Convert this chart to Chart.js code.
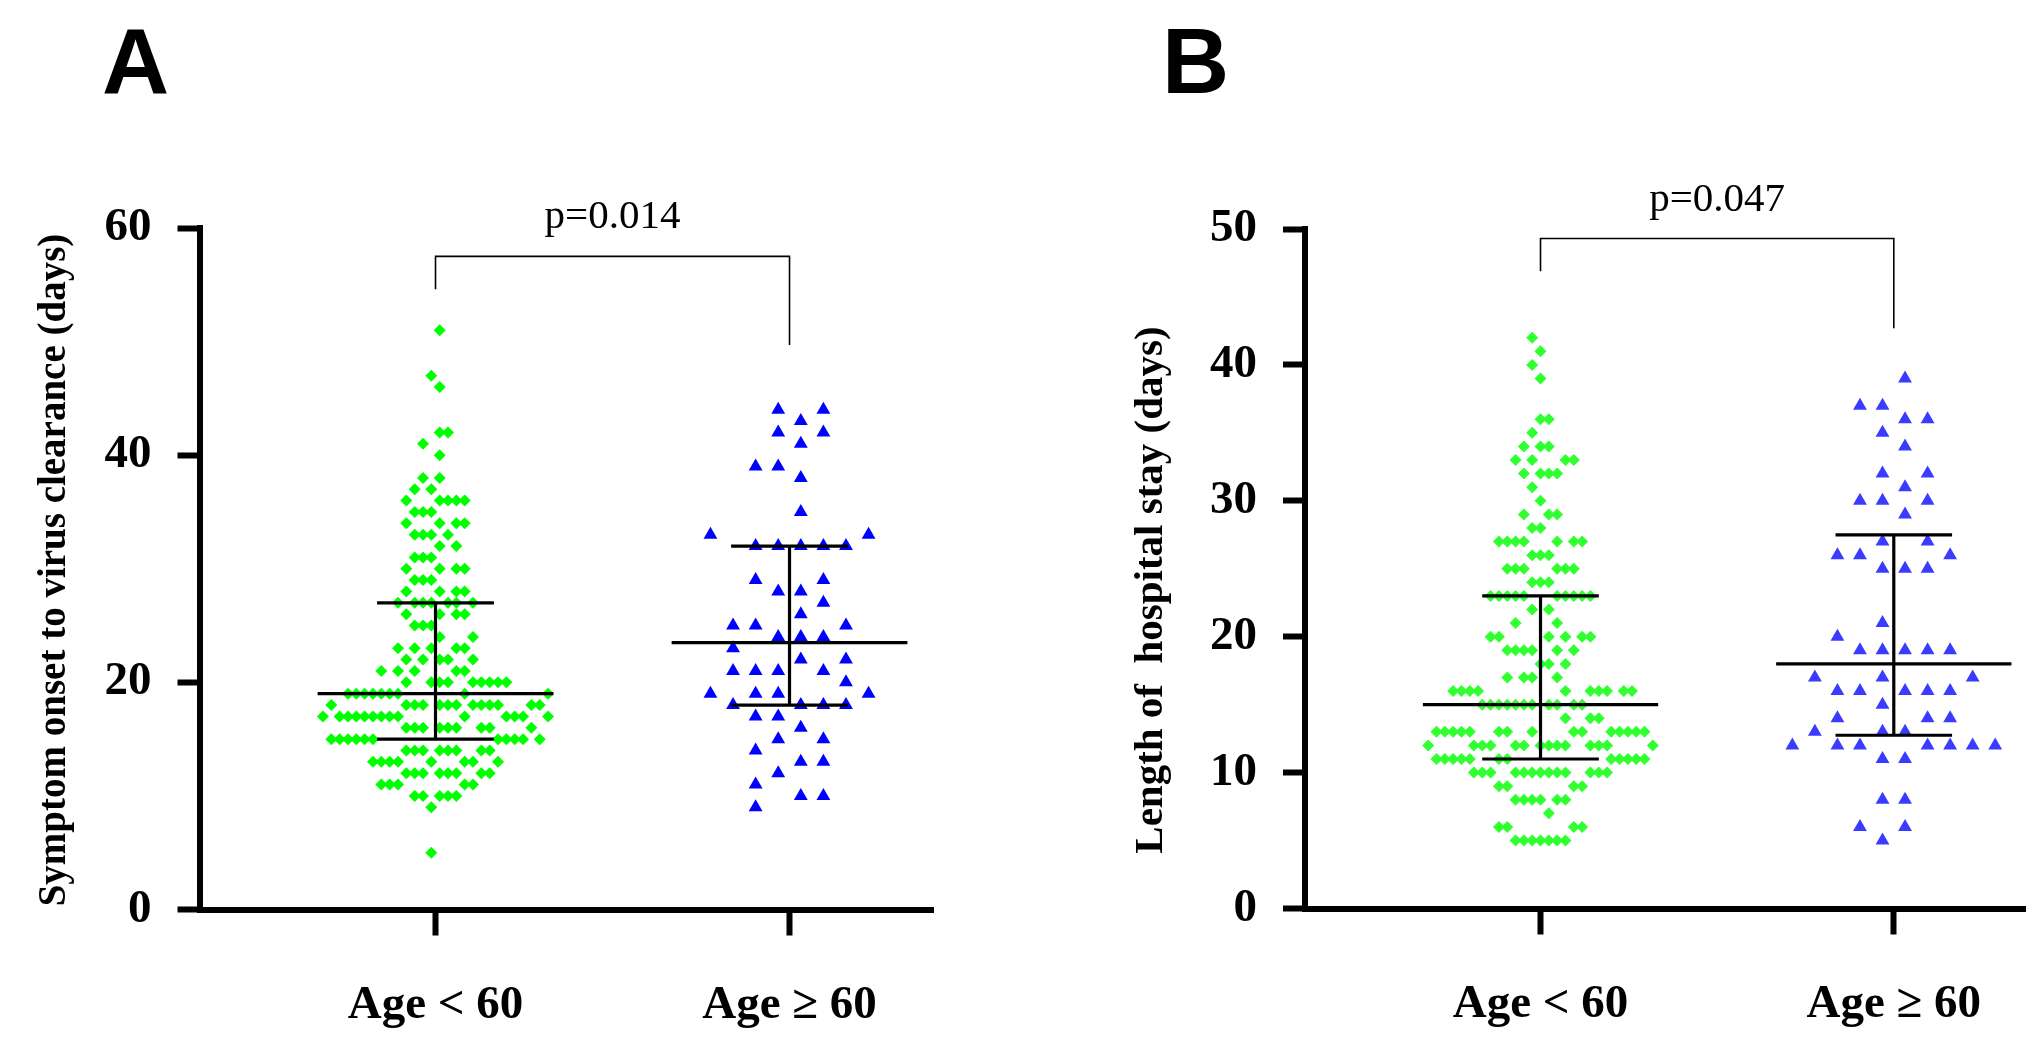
<!DOCTYPE html>
<html>
<head>
<meta charset="utf-8">
<script src="https://cdn.jsdelivr.net/npm/chart.js@4.4.1/dist/chart.umd.min.js"></script>
<style>
  html, body { margin: 0; padding: 0; background: #fff; }
  #wrap { position: relative; width: 2040px; height: 1044px; }
  .panel { position: absolute; top: 0; width: 1020px; height: 1044px; }
</style>
</head>
<body>
<div id="wrap">
  <div class="panel" style="left:0"><canvas id="chartA"></canvas></div>
  <div class="panel" style="left:1020px"><canvas id="chartB"></canvas></div>
</div>
<script>
const groupLabels = ['Age < 60', 'Age \u2265 60'];

// [days, column offsets within the scatter column]
const clearanceUnder60 = [
  [51, [0.5]], [47, [-0.5]], [46, [0.5]], [42, [0.5, 1.5]], [41, [-1.5]], [40, [0.5]],
  [38, [-1.5, 0.5]], [37, [-2.5, -0.5]], [36, [-3.5, 0.5, 1.5, 2.5, 3.5]],
  [35, [-2.5, -1.5, -0.5]], [34, [-3.5, 0.5, 2.5, 3.5]], [33, [-2.5, -1.5, -0.5, 1.5]],
  [32, [0.5, 2.5]], [31, [-2.5, -1.5, -0.5]], [30, [-3.5, 0.5, 2.5, 3.5]],
  [29, [-2.5, -1.5, -0.5]], [28, [-3.5, 0.5, 2.5, 3.5]],
  [27, [-4.5, -2.5, -1.5, -0.5, 1.5, 2.5, 4.5]], [26, [-3.5, 0.5, 2.5, 3.5]],
  [25, [-2.5, -1.5, -0.5]], [24, [0.5, 4.5]], [23, [-4.5, -2.5, -0.5, 2.5, 3.5]],
  [22, [-3.5, -1.5, 0.5, 1.5, 4.5]], [21, [-6.5, -4.5, -2.5, 2.5, 3.5]],
  [20, [-3.5, -0.5, 0.5, 1.5, 4.5, 5.5, 6.5, 7.5, 8.5]],
  [19, [-10.5, -9.5, -8.5, -7.5, -6.5, -5.5, -4.5, 3.5, 13.5]],
  [18, [-12.5, -3.5, -2.5, -1.5, 0.5, 1.5, 2.5, 4.5, 5.5, 6.5, 7.5, 11.5, 12.5]],
  [17, [-13.5, -11.5, -10.5, -9.5, -8.5, -7.5, -6.5, -5.5, -4.5, 3.5, 8.5, 9.5, 10.5, 13.5]],
  [16, [-3.5, -2.5, -1.5, 0.5, 1.5, 2.5, 5.5, 6.5, 11.5]],
  [15, [-12.5, -11.5, -10.5, -9.5, -8.5, -7.5, 7.5, 8.5, 9.5, 10.5, 12.5]],
  [14, [-3.5, -2.5, -1.5, 0.5, 1.5, 2.5, 5.5, 6.5]],
  [13, [-7.5, -6.5, -5.5, -4.5, -0.5, 3.5, 4.5, 7.5]],
  [12, [-3.5, -2.5, -1.5, 0.5, 1.5, 2.5, 5.5, 6.5]],
  [11, [-6.5, -5.5, -4.5, 3.5, 4.5]], [10, [-2.5, -1.5, 0.5, 1.5, 2.5]],
  [9, [-0.5]], [5, [-0.5]]
];
const clearanceOver60 = [
  [44, [-0.5, 1.5]], [43, [0.5]], [42, [-0.5, 1.5]], [41, [0.5]], [39, [-1.5, -0.5]],
  [38, [0.5]], [35, [0.5]], [33, [-3.5, 3.5]], [32, [-1.5, -0.5, 0.5, 1.5, 2.5]],
  [29, [-1.5, 1.5]], [28, [-0.5, 0.5]], [27, [1.5]], [26, [0.5]], [25, [-2.5, -1.5, 2.5]],
  [24, [-0.5, 0.5, 1.5]], [23, [-2.5]], [22, [0.5, 2.5]], [21, [-2.5, -1.5, -0.5, 1.5]],
  [20, [2.5]], [19, [-3.5, -1.5, -0.5, 3.5]], [18, [-2.5, 0.5, 1.5, 2.5]], [17, [-1.5, -0.5]],
  [16, [0.5]], [15, [-0.5, 1.5]], [14, [-1.5]], [13, [0.5, 1.5]], [12, [-0.5]], [11, [-1.5]],
  [10, [0.5, 1.5]], [9, [-1.5]]
];
const clearanceMedian = [19, 23.5];
const clearanceQ1 = [15, 18];
const clearanceQ3 = [27, 32];
const clearanceBracket = [54.6, 57.5, 49.7];

const stayUnder60 = [
  [42, [-1]], [41, [0]], [40, [-1]], [39, [0]], [36, [0, 1]], [35, [-1]], [34, [-2, 0, 1]],
  [33, [-3, -1, 3, 4]], [32, [-2, 0, 1, 2]], [31, [-1]], [30, [0]], [29, [-2, 1, 2]],
  [28, [-1, 0]], [27, [-5, -4, -3, -2, 2, 4, 5]], [26, [-1, 0, 1]], [25, [-4, -3, -2, 2, 3, 4]],
  [24, [-1, 0, 1]], [23, [-6, -5, -4, -3, -2, 2, 3, 4, 5, 6]], [22, [-1, 1]], [21, [-3, 2]],
  [20, [-6, -5, 1, 3, 5, 6]], [19, [-4, -3, -2, -1, 2, 4]], [18, [0, 1, 3]], [17, [-4, -2, -1, 2]],
  [16, [-10.5, -9.5, -8.5, -7.5, 3, 6, 7, 8, 10, 11]],
  [15, [-7, -6, -5, -4, -3, -2, -1, 1, 2, 4, 5]], [14, [3, 6, 7]],
  [13, [-12.5, -11.5, -10.5, -9.5, -8.5, -5, -4, -1, 4, 5, 8.5, 9.5, 10.5, 11.5, 12.5]],
  [12, [-13.5, -8, -7, -6, -3, -2, 0, 1, 2, 3, 6, 7, 8, 13.5]],
  [11, [-12.5, -11.5, -10.5, -9.5, -8.5, -5, -4, 8.5, 9.5, 10.5, 11.5, 12.5]],
  [10, [-8, -7, -6, -3, -2, -1, 0, 1, 2, 3, 6, 7, 8]], [9, [-5, -4, 4, 5]],
  [8, [-3, -2, -1, 0, 2, 3]], [7, [1]], [6, [-5, -4, 4, 5]], [5, [-3, -2, -1, 0, 1, 2, 3]]
];
const stayOver60 = [
  [39, [0.5]], [37, [-1.5, -0.5]], [36, [0.5, 1.5]], [35, [-0.5]], [34, [0.5]], [32, [-0.5, 1.5]],
  [31, [0.5]], [30, [-1.5, -0.5, 1.5]], [29, [0.5]], [27, [-0.5, 1.5]], [26, [-2.5, -1.5, 2.5]],
  [25, [-0.5, 0.5, 1.5]], [21, [-0.5]], [20, [-2.5]], [19, [-1.5, -0.5, 0.5, 1.5, 2.5]],
  [17, [-3.5, -0.5, 3.5]], [16, [-2.5, -1.5, 0.5, 1.5, 2.5]], [15, [-0.5]], [14, [-2.5, 1.5, 2.5]],
  [13, [-3.5, -0.5, 0.5]], [12, [-4.5, -2.5, -1.5, 1.5, 2.5, 3.5, 4.5]], [11, [-0.5, 0.5]],
  [8, [-0.5, 0.5]], [6, [-1.5, 0.5]], [5, [-0.5]]
];
const stayMedian = [15, 18];
const stayQ1 = [11, 12.75];
const stayQ3 = [23, 27.5];
const stayBracket = [46.9, 49.3, 42.7];

function swarm(rows, center, step) {
    const pts = [];
    rows.forEach(([value, cols]) => cols.forEach((c) => pts.push({ x: center + c * step, y: value })));
    return pts;
}

// median line, quartile caps and the vertical whisker; null y breaks the line
function errorBar(center, med, q1, q3) {
    return [
        { x: center - 0.333, y: med }, { x: center + 0.333, y: med }, { x: center, y: null },
        { x: center - 0.165, y: q3 }, { x: center + 0.165, y: q3 }, { x: center, y: null },
        { x: center - 0.165, y: q1 }, { x: center + 0.165, y: q1 }, { x: center, y: null },
        { x: center, y: q1 }, { x: center, y: q3 }
    ];
}

function bracket(b) {
    return [{ x: 1, y: b[0] }, { x: 1, y: b[1] }, { x: 2, y: b[1] }, { x: 2, y: b[2] }];
}

const panelText = {
    id: 'panelText',
    afterDraw(chart, args, o) {
        const { ctx } = chart;
        const xs = chart.scales.x, ys = chart.scales.y;
        ctx.save();
        ctx.fillStyle = '#000';
        ctx.textBaseline = 'alphabetic';
        ctx.textAlign = 'left';
        ctx.font = 'bold 93px "Liberation Sans", Arial, sans-serif';
        ctx.fillText(o.letter, o.letterX, 93);
        ctx.textAlign = 'center';
        ctx.font = '41px "Liberation Serif", "Times New Roman", serif';
        ctx.fillText(o.pText, xs.getPixelForValue(1.5), ys.getPixelForValue(o.bracket[1]) - 28);
        ctx.translate(o.titleX, o.titleY);
        ctx.rotate(-Math.PI / 2);
        ctx.font = 'bold ' + o.titleSize + 'px "Liberation Serif", "Times New Roman", serif';
        ctx.fillText(o.title, 0, 0);
        ctx.restore();
    }
};

const tickFont = { family: '"Liberation Serif", "Times New Roman", serif', size: 47, weight: 'bold' };

function buildPanel(id, p) {
    const line = { showLine: true, borderColor: '#000', pointRadius: 0, pointHitRadius: 0, order: 1 };
    new Chart(document.getElementById(id), {
        type: 'scatter',
        data: {
            datasets: [
                { data: swarm(p.under, 1, 0.02355), pointStyle: 'rectRot', pointRadius: 6,
                  pointBorderWidth: 0, pointBackgroundColor: p.green, order: 3 },
                { data: swarm(p.over, 2, 0.0638), pointStyle: 'triangle', pointRadius: 8,
                  pointBorderWidth: 0, pointBackgroundColor: p.blue, order: 3 },
                { ...line, data: errorBar(1, p.median[0], p.q1[0], p.q3[0]), borderWidth: 3.2 },
                { ...line, data: errorBar(2, p.median[1], p.q1[1], p.q3[1]), borderWidth: 3.2 },
                { ...line, data: bracket(p.bracket), borderWidth: 1.6 }
            ]
        },
        options: {
            responsive: true,
            maintainAspectRatio: false,
            animation: false,
            events: [],
            layout: { padding: { left: 0, top: p.top, right: p.padRight, bottom: 0 } },
            plugins: {
                legend: { display: false },
                tooltip: { enabled: false },
                panelText: {
                    letter: p.letter, letterX: p.letterX, pText: p.pText, bracket: p.bracket,
                    title: p.title, titleX: p.titleX, titleY: p.titleY, titleSize: p.titleSize
                }
            },
            scales: {
                x: {
                    type: 'linear',
                    min: 1 / 3,
                    max: p.xMax,
                    afterBuildTicks: (s) => { s.ticks = [{ value: 1 }, { value: 2 }]; },
                    afterFit: (s) => { s.height = 1044 - p.bottom; },
                    ticks: { callback: (v) => groupLabels[v - 1], color: '#000', font: tickFont,
                             padding: 42, maxRotation: 0, autoSkip: false },
                    grid: { drawOnChartArea: false, tickLength: 26, tickWidth: 6, tickColor: '#000' },
                    border: { color: '#000', width: 6 }
                },
                y: {
                    min: 0,
                    max: p.yMax,
                    afterFit: (s) => { s.width = p.axisX; },
                    ticks: { stepSize: p.yStep, color: '#000', font: tickFont, padding: 26 },
                    grid: { drawOnChartArea: false, tickLength: 22, tickWidth: 6, tickColor: '#000' },
                    border: { color: '#000', width: 6 }
                }
            }
        },
        plugins: [panelText]
    });
}

buildPanel('chartA', {
    under: clearanceUnder60, over: clearanceOver60,
    median: clearanceMedian, q1: clearanceQ1, q3: clearanceQ3, bracket: clearanceBracket,
    green: '#00ff00', blue: '#0000ff',
    yMax: 60, yStep: 20, xMax: 2.407,
    top: 228, bottom: 909.5, axisX: 199.5, padRight: 86.4,
    letter: 'A', letterX: 102, pText: 'p=0.014',
    title: 'Symptom onset to virus clearance (days)', titleX: 65, titleY: 570, titleSize: 39
});

buildPanel('chartB', {
    under: stayUnder60, over: stayOver60,
    median: stayMedian, q1: stayQ1, q3: stayQ3, bracket: stayBracket,
    green: '#30ff30', blue: '#3b3bff',
    yMax: 50, yStep: 10, xMax: 2.372,
    top: 229, bottom: 908.5, axisX: 285, padRight: 14.8,
    letter: 'B', letterX: 142, pText: 'p=0.047',
    title: 'Length of  hospital stay (days)', titleX: 142, titleY: 590, titleSize: 41
});
</script>
</body>
</html>
